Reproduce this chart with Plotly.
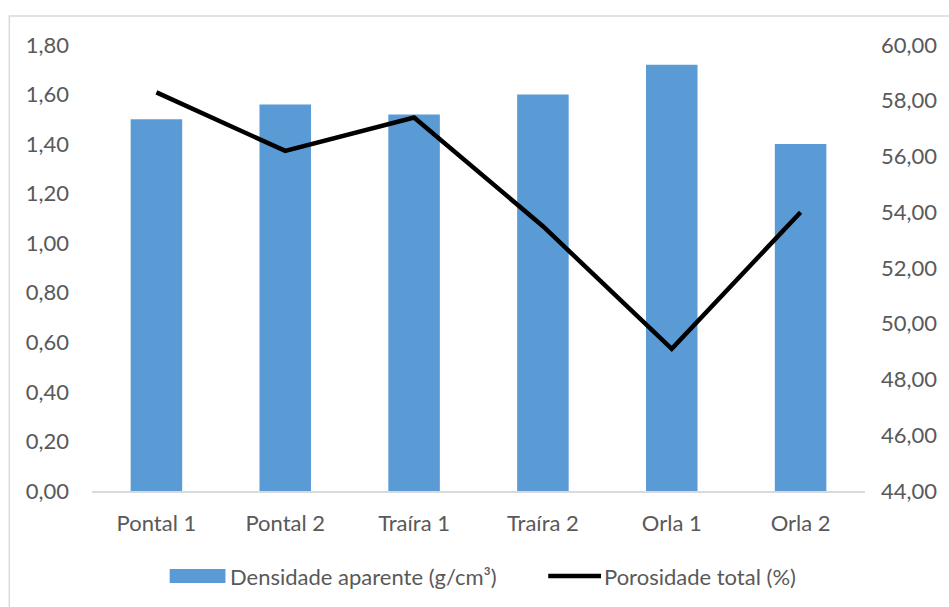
import plotly.graph_objects as go

# Sampling sites
categories = ["Pontal 1", "Pontal 2", "Traíra 1", "Traíra 2", "Orla 1", "Orla 2"]
# Bulk density (g/cm³), left axis
densidade = [1.50, 1.56, 1.52, 1.60, 1.72, 1.40]
# Total porosity (%), right axis
porosidade = [58.3, 56.2, 57.4, 53.5, 49.1, 54.0]

left_ticks = [0.0, 0.2, 0.4, 0.6, 0.8, 1.0, 1.2, 1.4, 1.6, 1.8]
right_ticks = [44, 46, 48, 50, 52, 54, 56, 58, 60]

FONT = "Lato, 'Open Sans', sans-serif"
TXT = "#595959"
BLUE = "#5b9bd5"
FS = 22

bar_name = "Densidade aparente (g/cm³)"
line_name = "Porosidade total (%)"

fig = go.Figure()
fig.add_trace(go.Bar(
    x=categories, y=densidade, name=bar_name,
    marker=dict(color=BLUE, line=dict(width=0)),
    yaxis="y", showlegend=False,
))
fig.add_trace(go.Scatter(
    x=categories, y=porosidade, name=line_name,
    mode="lines", line=dict(color="#000000", width=4.5),
    yaxis="y2", showlegend=False,
))

W, H = 949, 607
L, R, T, B = 92, 81, 45, 116
pw, ph = W - L - R, H - T - B


def px(x):
    return (x - L) / pw


def py(y):
    return (H - B - y) / ph


fig.update_layout(
    width=W, height=H,
    margin=dict(l=L, r=R, t=T, b=B, pad=0),
    paper_bgcolor="white", plot_bgcolor="white",
    separators=",.",
    font=dict(family=FONT, size=FS, color=TXT),
    bargap=0.6,
    xaxis=dict(
        showgrid=False, showline=True, linecolor="#d9d9d9", linewidth=1.5,
        ticks="", tickfont=dict(family=FONT, size=FS, color=TXT),
        ticklabelstandoff=12, zeroline=False,
    ),
    yaxis=dict(
        range=[0, 1.8], tickvals=left_ticks, tickformat=".2f",
        showgrid=False, zeroline=False, showline=False, ticks="",
        ticklabelstandoff=22,
        tickfont=dict(family=FONT, size=FS, color=TXT),
    ),
    yaxis2=dict(
        range=[44, 60], tickvals=right_ticks, tickformat=".2f",
        overlaying="y", side="right",
        showgrid=False, zeroline=False, showline=False, ticks="",
        ticklabelstandoff=15,
        tickfont=dict(family=FONT, size=FS, color=TXT),
    ),
)

# Chart frame border
fig.add_shape(
    type="rect", xref="paper", yref="paper",
    x0=px(9), x1=px(W + 20), y0=py(H + 20), y1=py(16),
    line=dict(color="#d9d9d9", width=1.5), fillcolor="rgba(0,0,0,0)",
    layer="below",
)

# Legend: wide swatch for the bars, short stroke for the line
leg_y = 576
fig.add_shape(
    type="rect", xref="paper", yref="paper",
    x0=px(170), x1=px(226), y0=py(leg_y + 7), y1=py(leg_y - 7),
    line=dict(width=0), fillcolor=BLUE,
)
fig.add_annotation(
    xref="paper", yref="paper", x=px(229), y=py(leg_y),
    xanchor="left", yanchor="middle", showarrow=False,
    text=bar_name, font=dict(family=FONT, size=FS, color=TXT),
)
fig.add_shape(
    type="line", xref="paper", yref="paper",
    x0=px(550), x1=px(603), y0=py(leg_y), y1=py(leg_y),
    line=dict(color="#000000", width=4.5),
)
fig.add_annotation(
    xref="paper", yref="paper", x=px(604), y=py(leg_y),
    xanchor="left", yanchor="middle", showarrow=False,
    text=line_name, font=dict(family=FONT, size=FS, color=TXT),
)

fig.write_html("out.html")
